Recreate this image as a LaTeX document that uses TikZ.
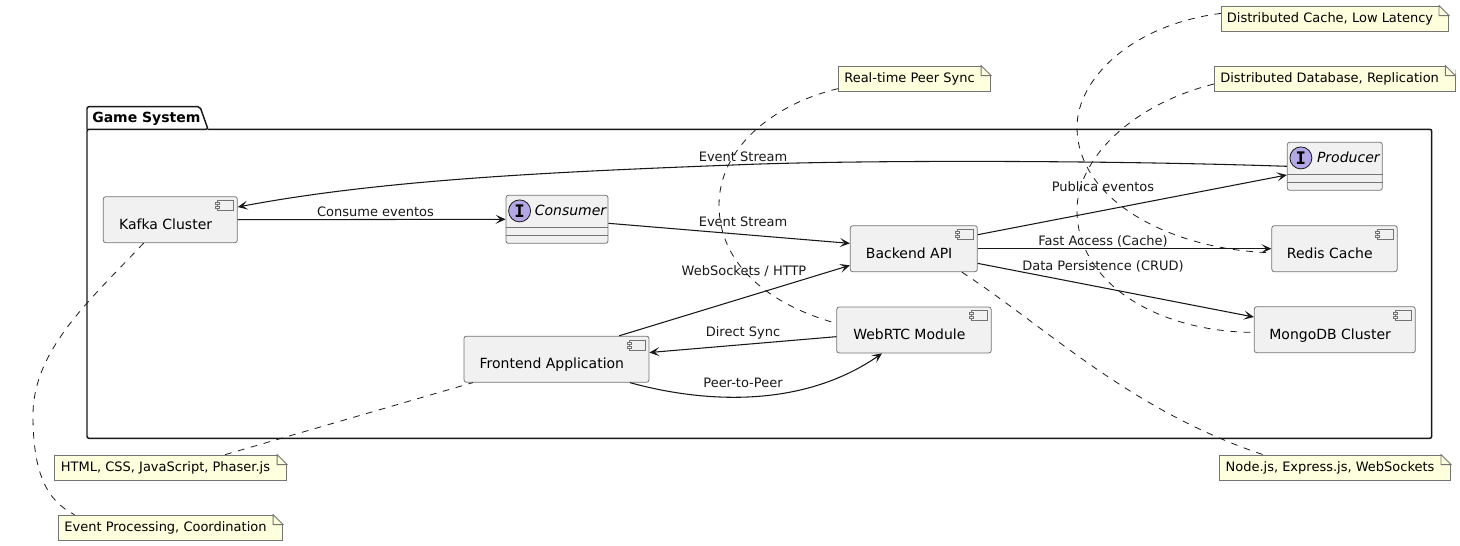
\documentclass[tikz,border=0pt]{standalone}
\usepackage{fontspec}
\setmainfont{DejaVu Sans}
\setmonofont{DejaVu Sans Mono}
\usetikzlibrary{arrows.meta}
\definecolor{colbox}{HTML}{F1F1F1}
\definecolor{colline}{HTML}{181818}
\definecolor{colnote}{HTML}{FEFFDD}
\definecolor{colspot}{HTML}{B4A7E5}
\tikzset{
  compbox/.style={
    rectangle,rounded corners=1.8pt,draw=colline!60,line width=.6pt,fill=colbox,inner sep=0pt,
    minimum height=34.5pt,text height=14.5pt,text depth=.5pt,
    font=\fontsize{10.5pt}{12pt}\selectfont
  },
  facebox/.style={
    rectangle,rounded corners=1.8pt,draw=colline!60,line width=.6pt,fill=colbox,inner sep=0pt,
    minimum height=36pt,text height=7pt,text depth=12pt,
    font=\fontsize{10.5pt}{12pt}\selectfont\itshape
  },
  spot/.style={
    circle,draw=colline,line width=.6pt,fill=colspot,inner sep=0pt,minimum size=16.5pt,
    font=\fontsize{13pt}{12pt}\selectfont\bfseries\ttfamily
  },
  notebox/.style={
    rectangle,draw=colline!60,line width=.6pt,fill=colnote,inner sep=0pt,minimum height=19pt,
    text height=8pt,text depth=1.6pt,font=\fontsize{9.75pt}{12pt}\selectfont
  },
  edgelabel/.style={
    inner sep=0pt,anchor=base,text=colline,font=\fontsize{9.75pt}{12pt}\selectfont
  },
  flow/.style={draw=colline,line width=.8pt,-{Stealth[length=7.5pt,width=6.75pt,inset=3.5pt]}},
  link/.style={draw=colline,line width=.6pt,dash pattern=on 5pt off 5pt}
}
\newcommand{\cbox}[2]{#2\kern#1\relax}
\begin{document}
\begin{tikzpicture}[x=.75pt,y=-.75pt]
  \useasboundingbox (0,0) rectangle (1460,546);

  % the package
  \draw[line width=1.1pt,rounded corners=1.5pt,colline] (87,129.3) -- (87,106.7) -- (200,106.7) -- (208,129.3) -- (87,129.3)
    -- (87,438.3) -- (1431.7,438.3) -- (1431.7,129.3) -- (208,129.3);
  \node[anchor=base west,inner sep=0pt,font=\fontsize{10.5pt}{12pt}\selectfont\bfseries] (title) at (92,122.7) {Game System};

  % the components
  \node[compbox,minimum width=100.5pt] (kafka) at (170.3,219.7) {\cbox{7pt}{Kafka Cluster}};
  \node[compbox,minimum width=138.75pt] (front) at (556.5,359.2) {\cbox{7pt}{Frontend Application}};
  \node[compbox,minimum width=95.25pt] (back) at (913.8,248.7) {\cbox{7pt}{Backend API}};
  \node[compbox,minimum width=115.75pt] (rtc) at (914,330) {\cbox{7pt}{WebRTC Module}};
  \node[compbox,minimum width=94pt] (redis) at (1334.5,248.7) {\cbox{7pt}{Redis Cache}};
  \node[compbox,minimum width=120.75pt] (mongo) at (1334.8,329.7) {\cbox{7pt}{MongoDB Cluster}};

  \foreach \comp in {kafka,front,back,rtc,redis,mongo} {
    \draw[colline!60,line width=.6pt,fill=colbox] ([xshift=-15pt,yshift=-3.2pt]\comp.north east) rectangle ([xshift=-3pt,yshift=-10.7pt]\comp.north east);
    \draw[colline!60,line width=.6pt,fill=colbox] ([xshift=-16.5pt,yshift=-4.7pt]\comp.north east) rectangle ([xshift=-13.5pt,yshift=-6.2pt]\comp.north east);
    \draw[colline!60,line width=.6pt,fill=colbox] ([xshift=-16.5pt,yshift=-7.7pt]\comp.north east) rectangle ([xshift=-13.5pt,yshift=-9.2pt]\comp.north east);
  }

  % the interfaces
  \node[facebox,minimum width=76.5pt] (cons) at (557,219.3) {\hspace{20.25pt}Consumer};
  \node[facebox,minimum width=71.25pt] (prod) at (1334.8,166.3) {\hspace{20.25pt}Producer};
  \foreach \face in {cons,prod} {
    \node[spot] (\face spot) at ([xshift=10.5pt,yshift=-12pt]\face.north west) {I};
    \draw[colline!60,line width=.6pt] ([yshift=-24pt]\face.north west) -- ([yshift=-24pt]\face.north east);
    \draw[colline!60,line width=.6pt] ([yshift=-30pt]\face.north west) -- ([yshift=-30pt]\face.north east);
  }

  % the notes
  \node[notebox,minimum width=170.5pt] (noteredis) at (1335,18.7) {\cbox{7.5pt}{Distributed Cache, Low Latency}};
  \node[notebox,minimum width=180.5pt] (notemongo) at (1334.6,78.7) {\cbox{7.5pt}{Distributed Database, Replication}};
  \node[notebox,minimum width=114.3pt] (notertc) at (914.5,78.7) {\cbox{7.5pt}{Real-time Peer Sync}};
  \node[notebox,minimum width=174.3pt] (notefront) at (170.5,467.7) {\cbox{7.5pt}{HTML, CSS, JavaScript, Phaser.js}};
  \node[notebox,minimum width=168.3pt] (notekafka) at (170.5,527.7) {\cbox{7.5pt}{Event Processing, Coordination}};
  \node[notebox,minimum width=173.5pt] (noteback) at (1335,467.7) {\cbox{7.5pt}{Node.js, Express.js, WebSockets}};

  \foreach \note in {noteredis,notemongo,notertc,notefront,notekafka,noteback} {
    \fill[white] ([xshift=-7.5pt]\note.north east) -- ([xshift=.5pt,yshift=.5pt]\note.north east) -- ([yshift=-7.5pt]\note.north east) -- cycle;
    \draw[colline!60,line width=.6pt] ([xshift=-7.5pt]\note.north east) -- ([yshift=-7.5pt]\note.north east)
      -- ([xshift=-7.5pt,yshift=-7.5pt]\note.north east) -- cycle;
  }

  % the note links
  \draw[link] ([yshift=4pt]noteredis.west) .. controls (1130,25) and (1077,80) .. (1077,127)
    .. controls (1077,200) and (1170,250) .. ([yshift=-3pt]redis.west);
  \draw[link] ([yshift=-4pt]notemongo.west) .. controls (1130,105) and (1077,160) .. (1077,210)
    .. controls (1077,285) and (1160,332) .. ([yshift=-2pt]mongo.west);
  \draw[link] ([yshift=-7.5pt]notertc.west) .. controls (770,105) and (719,150) .. (719,205)
    .. controls (719,265) and (770,305) .. ([yshift=5pt]rtc.west);
  \draw[link] ([xshift=41pt]notefront.north) -- ([xshift=7pt]front.south west);
  \draw[link] ([xshift=36pt]back.south) .. controls (1050,330) and (1130,410) .. ([xshift=-54pt]noteback.north);
  \draw[link] ([xshift=-20pt]kafka.south) .. controls (90,300) and (33,350) .. (33,415)
    .. controls (33,470) and (45,500) .. ([xshift=12.5pt]notekafka.north west);

  % the flows
  \draw[flow] (kafka.east) -- (cons.west);
  \draw[flow] ([yshift=-3pt]cons.east) -- ([yshift=4pt]back.west);
  \draw[flow] (prod.west) .. controls (1100,160) and (850,160) .. (733,165)
    .. controls (550,172) and (380,180) .. ([yshift=9.5pt]kafka.east);
  \draw[flow] ([yshift=10.5pt]back.east) -- ([yshift=-6.5pt]prod.west);
  \draw[flow] (back.east) -- (redis.west);
  \draw[flow] ([yshift=-11pt]back.east) -- ([yshift=9.5pt]mongo.west);
  \draw[flow] ([xshift=47pt]front.north) -- ([yshift=-12.5pt]back.west);
  \draw[flow] ([yshift=-5pt]rtc.west) -- ([yshift=5pt]front.east);
  \draw[flow] ([xshift=55pt]front.south) .. controls (700,402) and (800,410) .. ([xshift=-24pt]rtc.south);

  % the labels
  \node[edgelabel] (lblconsume) at (375.5,216) {Consume eventos};
  \node[edgelabel] (lblstreama) at (743,226.7) {Event Stream};
  \node[edgelabel] (lblstreamb) at (743,161) {Event Stream};
  \node[edgelabel] (lblpublish) at (1103,191) {Publica eventos};
  \node[edgelabel] (lblcache) at (1103,245) {Fast Access (Cache)};
  \node[edgelabel] (lbldata) at (1103,270) {Data Persistence (CRUD)};
  \node[edgelabel] (lblsocket) at (744,275) {WebSockets / HTTP};
  \node[edgelabel] (lblsync) at (743,336.7) {Direct Sync};
  \node[edgelabel] (lblpeer) at (743,387) {Peer-to-Peer};
\end{tikzpicture}
\end{document}
